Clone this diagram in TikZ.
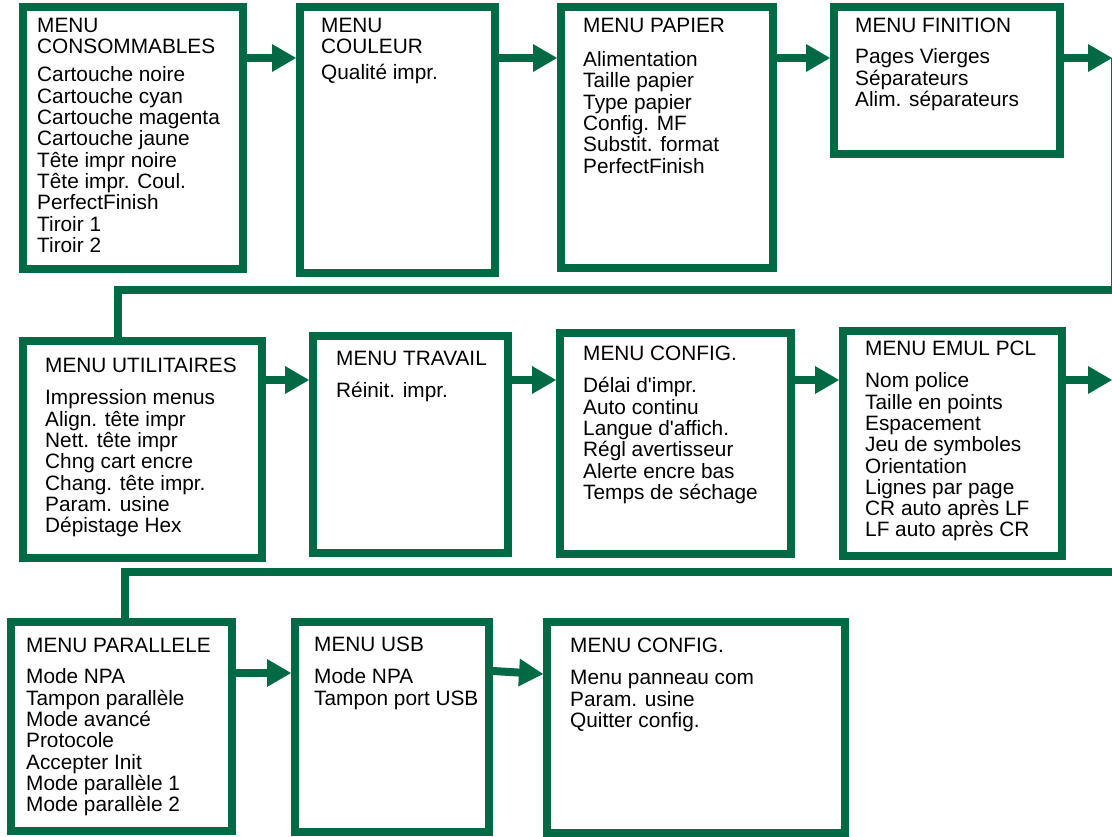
\documentclass[tikz,border=0pt]{standalone}
\usepackage{fontspec}
\setmainfont{Liberation Sans}
\usepackage{tikz}
\usetikzlibrary{arrows.meta}
\definecolor{menugreen}{RGB}{0,106,69}

\begin{document}
\begin{tikzpicture}[x=1pt,y=-1pt,
    menubox/.style={draw=menugreen,line width=8pt,inner sep=0pt},
    menutext/.style={anchor=north west,inner sep=0pt,align=left,font=\fontsize{20.8}{21.3}\selectfont},
    flow/.style={draw=menugreen,line width=8pt,-{Triangle[length=24pt,width=28pt,line width=0pt]}},
    link/.style={draw=menugreen,line width=8pt}]
    \useasboundingbox (0,0) rectangle (1112,837);

    \node[menubox,minimum width=220pt,minimum height=262pt] (cons) at (133,138) {};
    \node[menubox,minimum width=195pt,minimum height=266pt] (coul) at (397.5,140) {};
    \node[menubox,minimum width=212pt,minimum height=261pt] (papier) at (667,137.5) {};
    \node[menubox,minimum width=226pt,minimum height=147pt] (finit) at (947,80.5) {};
    \node[menubox,minimum width=239pt,minimum height=217pt] (util) at (142.5,449.5) {};
    \node[menubox,minimum width=195pt,minimum height=217pt] (trav) at (410.5,444.5) {};
    \node[menubox,minimum width=231pt,minimum height=221pt] (config) at (675.5,443.5) {};
    \node[menubox,minimum width=219pt,minimum height=225pt] (emul) at (952.5,443.5) {};
    \node[menubox,minimum width=221pt,minimum height=209pt] (para) at (121.5,726.5) {};
    \node[menubox,minimum width=194pt,minimum height=210pt] (usb) at (392,727) {};
    \node[menubox,minimum width=298pt,minimum height=211pt] (configb) at (696,727.5) {};

    \node[menutext] (cons-t) at (37,18.1) {MENU\\CONSOMMABLES\\[6.7pt]Cartouche noire\\Cartouche cyan\\Cartouche magenta\\Cartouche jaune\\Tête impr noire\\Tête impr. Coul.\\PerfectFinish\\Tiroir 1\\Tiroir 2};
    \node[menutext] (coul-t) at (321,18.1) {MENU\\COULEUR\\[4.7pt]Qualité impr.};
    \node[menutext] (papier-t) at (583,18.1) {MENU PAPIER\\[12.7pt]Alimentation\\Taille papier\\Type papier\\Config. MF\\Substit. format\\PerfectFinish};
    \node[menutext] (finit-t) at (855,18.1) {MENU FINITION\\[9.7pt]Pages Vierges\\Séparateurs\\Alim. séparateurs};
    \node[menutext] (util-t) at (45,358.1) {MENU UTILITAIRES\\[10.7pt]Impression menus\\Align. tête impr\\Nett. tête impr\\Chng cart encre\\Chang. tête impr.\\Param. usine\\Dépistage Hex};
    \node[menutext] (trav-t) at (336,351.1) {MENU TRAVAIL\\[10.7pt]Réinit. impr.};
    \node[menutext] (config-t) at (583,346.1) {MENU CONFIG.\\[10.7pt]Délai d\textquotesingle impr.\\Auto continu\\Langue d\textquotesingle affich.\\Régl avertisseur\\Alerte encre bas\\Temps de séchage};
    \node[menutext] (emul-t) at (865,341.1) {MENU EMUL PCL\\[10.7pt]Nom police\\Taille en points\\Espacement\\Jeu de symboles\\Orientation\\Lignes par page\\CR auto après LF\\LF auto après CR};
    \node[menutext] (para-t) at (26,638.1) {MENU PARALLELE\\[10pt]Mode NPA\\Tampon parallèle\\Mode avancé\\Protocole\\Accepter Init\\Mode parallèle 1\\Mode parallèle 2};
    \node[menutext] (usb-t) at (314,637.1) {MENU USB\\[10.7pt]Mode NPA\\Tampon port USB};
    \node[menutext] (configb-t) at (570,638.1) {MENU CONFIG.\\[10.7pt]Menu panneau com\\Param. usine\\Quitter config.};

    \coordinate (row1) at (0,58);
    \coordinate (row2) at (0,380);
    \coordinate (row3) at (0,673);
    \coordinate (usbout) at (0,671);
    \coordinate (cfgin) at (0,674);
    \coordinate (out1) at (1112,58);
    \coordinate (out2) at (1112,380);
    \coordinate (edge1) at (1112,290.5);
    \coordinate (bend1) at (118,290.5);
    \coordinate (edge2) at (1112,572);
    \coordinate (bend2) at (125,572);

    \draw[flow] (cons.east |- row1) -- (coul.west |- row1);
    \draw[flow] (coul.east |- row1) -- (papier.west |- row1);
    \draw[flow] (papier.east |- row1) -- (finit.west |- row1);
    \draw[flow] (finit.east |- row1) -- (out1);
    \draw[menugreen,line width=1pt] ([xshift=-1pt]out1) -- ([xshift=-1pt]edge1);
    \draw[link] (edge1) -- (bend1) -- (bend1 |- util.north);

    \draw[flow] (util.east |- row2) -- (trav.west |- row2);
    \draw[flow] (trav.east |- row2) -- (config.west |- row2);
    \draw[flow] (config.east |- row2) -- (emul.west |- row2);
    \draw[flow] (emul.east |- row2) -- (out2);
    \draw[link] (edge2) -- (bend2) -- (bend2 |- para.north);

    \draw[flow] (para.east |- row3) -- (usb.west |- row3);
    \draw[flow] (usb.east |- usbout) -- (configb.west |- cfgin);
\end{tikzpicture}
\end{document}
